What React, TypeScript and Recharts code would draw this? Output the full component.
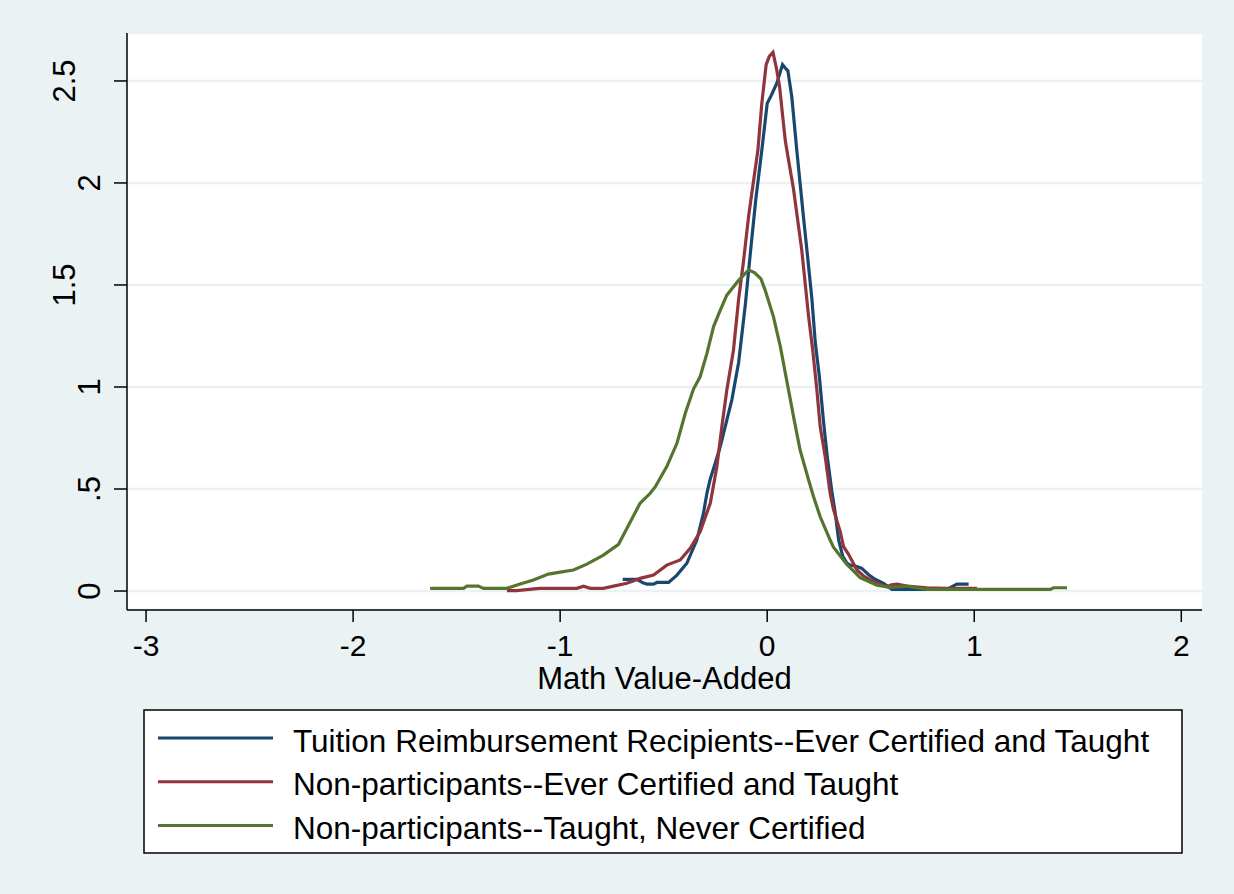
import { LineChart, Line, XAxis, YAxis, CartesianGrid, Label } from 'recharts';

// Kernel density of math value-added, three teacher groups (Stata s2color look)

const FONT = '"Liberation Sans", Arial, Helvetica, sans-serif';
const BG = '#EAF2F3';

const seriesNames = [
  'Tuition Reimbursement Recipients--Ever Certified and Taught',
  'Non-participants--Ever Certified and Taught',
  'Non-participants--Taught, Never Certified',
];
const seriesColors = ['#1a476f', '#90353b', '#55752f'];

const xTicks = [-3, -2, -1, 0, 1, 2];
const yTicks = [0, 0.5, 1, 1.5, 2, 2.5];
const yTickLabels = ['0', '.5', '1', '1.5', '2', '2.5'];

// [math value-added, density]
const tuitionCurve: [number, number][] = [
  [-0.698, 0.057], [-0.63, 0.057], [-0.6, 0.04], [-0.581, 0.034], [-0.549, 0.034],
  [-0.533, 0.042], [-0.476, 0.042], [-0.436, 0.078], [-0.388, 0.136], [-0.34, 0.25],
  [-0.308, 0.38], [-0.291, 0.48], [-0.275, 0.55], [-0.251, 0.626], [-0.227, 0.707],
  [-0.195, 0.838], [-0.171, 0.936], [-0.138, 1.12], [-0.106, 1.4], [-0.082, 1.65],
  [-0.055, 1.92], [-0.026, 2.16], [0.0, 2.39], [0.02, 2.43], [0.047, 2.49],
  [0.074, 2.58], [0.09, 2.56], [0.1, 2.55], [0.119, 2.42], [0.143, 2.16],
  [0.175, 1.835], [0.192, 1.67], [0.216, 1.43], [0.232, 1.22], [0.252, 1.05],
  [0.272, 0.83], [0.29, 0.66], [0.312, 0.49], [0.329, 0.38], [0.345, 0.25],
  [0.365, 0.17], [0.385, 0.137], [0.401, 0.127], [0.433, 0.12], [0.457, 0.111],
  [0.49, 0.08], [0.514, 0.062], [0.562, 0.038], [0.602, 0.008], [0.868, 0.008],
  [0.916, 0.034], [0.973, 0.034],
];

const certifiedCurve: [number, number][] = [
  [-1.257, 0.002], [-1.21, 0.002], [-1.1, 0.013], [-0.919, 0.013], [-0.887, 0.024],
  [-0.855, 0.013], [-0.791, 0.013], [-0.742, 0.024], [-0.678, 0.038], [-0.614, 0.062],
  [-0.549, 0.078], [-0.485, 0.127], [-0.42, 0.152], [-0.372, 0.209], [-0.324, 0.29],
  [-0.275, 0.43], [-0.243, 0.61], [-0.219, 0.805], [-0.195, 0.985], [-0.163, 1.18],
  [-0.138, 1.43], [-0.114, 1.62], [-0.09, 1.835], [-0.066, 2.01], [-0.045, 2.16],
  [-0.026, 2.39], [-0.005, 2.58], [0.01, 2.62], [0.028, 2.64], [0.045, 2.56],
  [0.06, 2.47], [0.087, 2.21], [0.095, 2.16], [0.127, 1.97], [0.167, 1.67],
  [0.2, 1.345], [0.22, 1.18], [0.24, 0.985], [0.256, 0.805], [0.28, 0.66],
  [0.304, 0.479], [0.32, 0.4], [0.353, 0.29], [0.369, 0.217], [0.393, 0.18],
  [0.433, 0.103], [0.47, 0.07], [0.498, 0.054], [0.54, 0.035], [0.578, 0.021],
  [0.6, 0.03], [0.627, 0.034], [0.675, 0.024], [0.772, 0.016], [0.868, 0.013],
  [1.013, 0.013],
];

const neverCertifiedCurve: [number, number][] = [
  [-1.628, 0.013], [-1.467, 0.013], [-1.45, 0.024], [-1.395, 0.024], [-1.37, 0.013],
  [-1.257, 0.013], [-1.193, 0.034], [-1.129, 0.054], [-1.057, 0.083], [-0.984, 0.095],
  [-0.936, 0.103], [-0.871, 0.132], [-0.791, 0.176], [-0.718, 0.229], [-0.678, 0.307],
  [-0.614, 0.43], [-0.565, 0.479], [-0.541, 0.51], [-0.485, 0.61], [-0.436, 0.724],
  [-0.396, 0.87], [-0.356, 0.99], [-0.324, 1.05], [-0.291, 1.165], [-0.259, 1.296],
  [-0.225, 1.38], [-0.195, 1.45], [-0.179, 1.47], [-0.14, 1.52], [-0.09, 1.574],
  [-0.06, 1.56], [-0.03, 1.53], [-0.01, 1.475], [0.03, 1.345], [0.063, 1.2],
  [0.103, 0.985], [0.13, 0.84], [0.159, 0.69], [0.2, 0.544], [0.224, 0.462],
  [0.256, 0.364], [0.304, 0.25], [0.32, 0.215], [0.385, 0.13], [0.449, 0.066],
  [0.53, 0.029], [0.594, 0.018], [0.675, 0.024], [0.772, 0.008], [1.367, 0.008],
  [1.383, 0.016], [1.448, 0.016],
];

const curves = [tuitionCurve, certifiedCurve, neverCertifiedCurve];

const toRows = (pts: [number, number][]) => pts.map(([x, y]) => ({ x, y }));

function YTick(props: any) {
  const { x, y, index } = props;
  const label = yTickLabels[index] ?? String(props.payload?.value);
  // Stata pushes the wider labels further out
  const bx = x - (label.length > 2 ? 37 : 12);
  return (
    <text
      x={bx}
      y={y}
      transform={`rotate(-90 ${bx} ${y})`}
      textAnchor="middle"
      fontSize={31}
      fontFamily={FONT}
      fill="#000"
    >
      {label}
    </text>
  );
}

function XTick(props: any) {
  const { x, y, payload } = props;
  return (
    <text x={x} y={y + 32} textAnchor="middle" fontSize={30} fontFamily={FONT} fill="#000">
      {payload.value}
    </text>
  );
}

function LegendBox() {
  return (
    <svg
      width={1040}
      height={145}
      style={{ position: 'absolute', left: 143, top: 709 }}
    >
      <rect x={1} y={1} width={1038} height={143} fill="#fff" stroke="#000" strokeWidth={1.5} />
      {seriesNames.map((name, i) => {
        const rowY = 29 + i * 43.7;
        return (
          <g key={name}>
            <line x1={15} x2={130} y1={rowY} y2={rowY} stroke={seriesColors[i]} strokeWidth={3} />
            <text x={150} y={rowY + 13.5} fontSize={31.5} fontFamily={FONT} fill="#000">
              {name}
            </text>
          </g>
        );
      })}
    </svg>
  );
}

export default function App() {
  return (
    <div
      style={{
        position: 'absolute',
        left: 0,
        top: 0,
        width: 1234,
        height: 894,
        background: BG,
        fontFamily: FONT,
      }}
    >
      <LineChart
        width={1234}
        height={894}
        margin={{ top: 33, right: 32, bottom: 204, left: 0 }}
      >
        <CartesianGrid
          vertical={false}
          fill="#fff"
          stroke={BG}
          strokeWidth={2.5}
        />
        <XAxis
          dataKey="x"
          type="number"
          domain={[-3.092, 2.1]}
          ticks={xTicks}
          allowDataOverflow
          height={80}
          tickSize={12}
          axisLine={{ stroke: '#000', strokeWidth: 1.5 }}
          tickLine={{ stroke: '#000', strokeWidth: 1.5 }}
          tick={<XTick />}
          interval={0}
        >
          <Label
            value="Math Value-Added"
            position="insideBottom"
            offset={1}
            fontSize={31}
            fontFamily={FONT}
            fill="#000"
          />
        </XAxis>
        <YAxis
          dataKey="y"
          type="number"
          domain={[-0.093, 2.735]}
          ticks={yTicks}
          allowDataOverflow
          width={127}
          tickSize={13}
          axisLine={{ stroke: '#000', strokeWidth: 1.5 }}
          tickLine={{ stroke: '#000', strokeWidth: 1.5 }}
          tick={<YTick />}
          interval={0}
        />
        {curves.map((pts, i) => (
          <Line
            key={seriesNames[i]}
            data={toRows(pts)}
            dataKey="y"
            type="linear"
            stroke={seriesColors[i]}
            strokeWidth={3.2}
            dot={false}
            activeDot={false}
            isAnimationActive={false}
          />
        ))}
      </LineChart>
      <LegendBox />
    </div>
  );
}
